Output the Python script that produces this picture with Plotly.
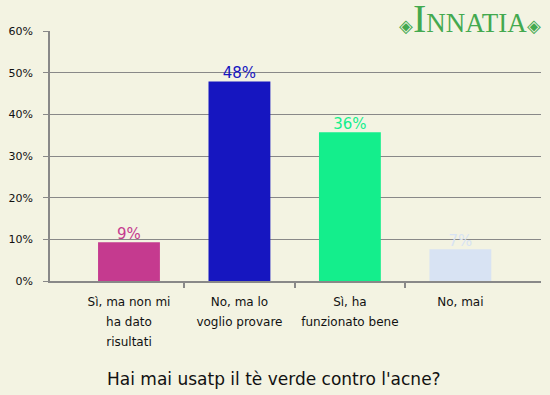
import plotly.graph_objects as go

categories = [["Sì, ma non mi", "ha dato", "risultati"], ["No, ma lo", "voglio provare"],
              ["Sì, ha", "funzionato bene"], ["No, mai"]]
values = [9.3, 47.9, 35.7, 7.6]
labels = ["9%", "48%", "36%", "7%"]
colors = ["#C53A8F", "#1616C0", "#14EE8C", "#D8E3F3"]
ytick_vals = [0, 10, 20, 30, 40, 50, 60]
ytick_text = ["0%", "10%", "20%", "30%", "40%", "50%", "60%"]
title = "Hai mai usatp il tè verde contro l'acne?"

bg = "#F3F3E2"
font = "DejaVu Sans"
xs = list(range(len(categories)))
xrange_ = [-0.715, 3.73]
tick_text = ["<br>".join("<span style='font-size:12px'>%s</span>" % ln for ln in c)
             for c in categories]

fig = go.Figure()
fig.add_trace(go.Bar(
    x=xs, y=values, width=0.56, marker=dict(color=colors, line=dict(width=0)),
    hoverinfo="skip"))
fig.add_trace(go.Scatter(
    x=xs, y=values, mode="text", text=labels, textposition="top center",
    textfont=dict(family=font, size=15, color=colors), cliponaxis=False,
    hoverinfo="skip"))
# invisible trace on overlay axis to carry category-boundary tick marks
fig.add_trace(go.Scatter(x=[0.5, 1.5, 2.5], y=[0, 0, 0], xaxis="x2",
                         mode="markers", marker=dict(opacity=0), hoverinfo="skip"))

fig.update_layout(
    width=550, height=395,
    margin=dict(l=50, r=9, t=31, b=114),
    paper_bgcolor=bg, plot_bgcolor=bg,
    showlegend=False,
    font=dict(family=font, color="#111111"),
    xaxis=dict(range=xrange_, tickmode="array", tickvals=xs, ticktext=tick_text,
               showgrid=False, zeroline=False, showline=True, linecolor="#888888",
               linewidth=1.5, ticks="", tickfont=dict(size=15.4, color="#111111"),
               ticklabelstandoff=5, fixedrange=True),
    xaxis2=dict(range=xrange_, overlaying="x", tickmode="array", tickvals=[0.5, 1.5, 2.5],
                showticklabels=False, ticks="outside", ticklen=6, tickcolor="#888888",
                tickwidth=1.5, showgrid=False, zeroline=False, showline=False,
                side="bottom", anchor="y"),
    yaxis=dict(range=[0, 60], tickmode="array", tickvals=ytick_vals, ticktext=ytick_text,
               showgrid=True, gridcolor="#888888", gridwidth=1.2, zeroline=False,
               showline=True, linecolor="#888888", linewidth=1.5,
               ticks="outside", ticklen=5, tickcolor="#888888", tickwidth=1.2,
               ticklabelstandoff=8,
               tickfont=dict(size=11, color="#111111")),
    annotations=[
        dict(text=title, xref="paper", yref="paper", x=0.456, y=-0.392,
             xanchor="center", yanchor="middle", showarrow=False,
             font=dict(family=font, size=17, color="#111111")),
        dict(text="<span style='font-size:18px'>◈</span>"
                  "<span style='font-size:40px'>I</span>NNATIA"
                  "<span style='font-size:18px'>◈</span>",
             xref="paper", yref="paper", x=1.004, y=1.004, xanchor="right", yanchor="bottom",
             yshift=-13,
             showarrow=False, font=dict(family="Liberation Serif", size=27, color="#43A94F")),
    ],
)

fig.write_html("out.html")
